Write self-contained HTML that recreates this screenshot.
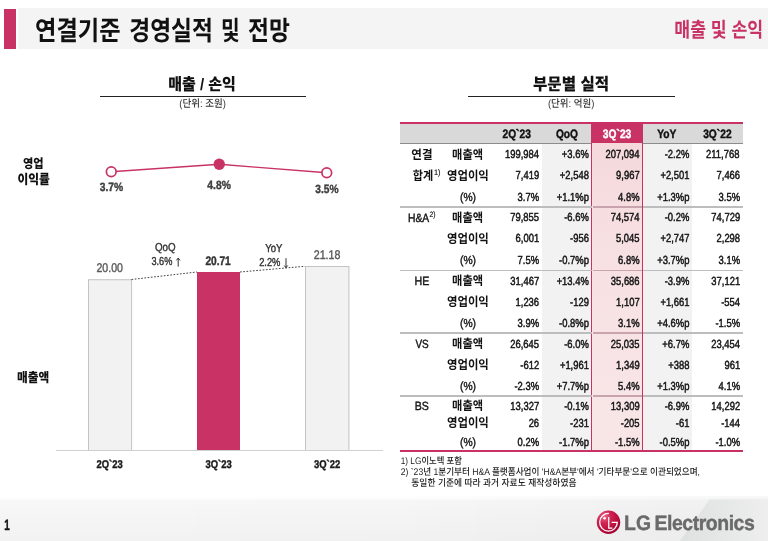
<!DOCTYPE html>
<html lang="ko"><head><meta charset="utf-8"><title>연결기준 경영실적 및 전망</title>
<style>
html,body{margin:0;padding:0;background:#fff}
body{width:768px;height:541px;overflow:hidden;position:relative;font-family:"Liberation Sans",sans-serif;text-rendering:geometricPrecision}
#slide{position:absolute;left:0;top:0;width:768px;height:541px;overflow:hidden;background:#fff;filter:blur(.4px)}
.bx{position:absolute;display:block}
.bar{background:#f2f2f2;box-sizing:border-box;border:1px solid #cfcfcf;border-bottom:none}
#lat{position:absolute;left:0;top:0;font-family:"Liberation Sans",sans-serif;text-rendering:geometricPrecision}
#lat text{white-space:pre}
#kr{position:absolute;left:0;top:0;font-family:"Liberation Sans","Noto Sans CJK KR",sans-serif;text-rendering:geometricPrecision}
#ktext span{position:absolute;display:block;overflow:hidden;white-space:nowrap;color:transparent}
</style></head><body>
<div id="slide">
<div id="shapes">
<svg class="bx" style="left:0;top:496px" width="768" height="45" viewBox="0 496 768 45">
<defs>
<linearGradient id="fv" x1="0" y1="0" x2="0" y2="1"><stop offset="0" stop-color="#fff"/><stop offset="0.04" stop-color="#fff"/><stop offset="0.1" stop-color="#f8f8f8"/><stop offset="0.3" stop-color="#f6f6f6"/><stop offset="1" stop-color="#f2f2f2"/></linearGradient>
<linearGradient id="fh" x1="0" y1="0" x2="1" y2="0"><stop offset="0" stop-color="#000" stop-opacity="0"/><stop offset="0.5" stop-color="#000" stop-opacity="0.004"/><stop offset="1" stop-color="#000" stop-opacity="0.03"/></linearGradient>
<linearGradient id="fd" x1="0" y1="0" x2="1" y2="0"><stop offset="0" stop-color="#dfe1e1"/><stop offset="0.5" stop-color="#e6e7e7"/><stop offset="1" stop-color="#eeeeee"/></linearGradient>
</defs>
<rect x="0" y="496" width="768" height="45" fill="url(#fv)"/>
<rect x="0" y="496" width="768" height="45" fill="url(#fh)"/>
<polygon points="709.5,499.5 768,499.5 768,541 680,541" fill="url(#fd)"/>
<polygon points="709.5,498.5 768,498.5 768,499.5 709,499.5" fill="#f0f0f0"/>
</svg>
<div class="bx" style="left:3.9px;top:8.5px;width:12px;height:40.4px;background:#c83264"></div>
<div class="bx" style="left:17.5px;top:8.3px;width:751px;height:41px;background:#f4f4f4"></div>
<div class="bx" style="left:100px;top:96px;width:205.5px;height:1px;background:#222"></div>
<div class="bx" style="left:468px;top:96px;width:206.5px;height:1px;background:#222"></div>
<svg class="bx" style="left:0;top:0" width="768" height="541" viewBox="0 0 768 541"><polyline points="111.25,171.75 219.25,164.25 326.75,172.75" fill="none" stroke="#c83264" stroke-width="1.3"/><circle cx="111.25" cy="171.75" r="4.85" fill="#fff" stroke="#c83264" stroke-width="1.7"/><circle cx="219.25" cy="164.25" r="5.7" fill="#c83264"/><circle cx="326.75" cy="172.75" r="4.85" fill="#fff" stroke="#c83264" stroke-width="1.7"/><rect x="88.45" y="279.75" width="43.2" height="172" fill="#f2f2f2" stroke="#bdbdbd" stroke-width="0.9"/><rect x="197" y="272" width="43" height="179" fill="#c83264"/><rect x="305.45" y="266.55" width="43.5" height="185" fill="#f2f2f2" stroke="#bdbdbd" stroke-width="0.9"/><rect x="50" y="450.9" width="340" height="3" fill="#fff"/><path d="M131.5 279.5L197 272M240 272L305 266.3" fill="none" stroke="#444" stroke-width="1" stroke-dasharray="1.7 1.55"/><rect x="56" y="450" width="327" height="1" fill="#d0d0d0"/><path d="M178.2 266.6V258.4M176.4 260.4L178.2 258L180 260.4" fill="none" stroke="#333" stroke-width="1"/><path d="M286 258.2V267.4M284.3 265.5L286 267.8L287.7 265.5" fill="none" stroke="#333" stroke-width="1"/></svg>
<div class="bx" style="left:400px;top:124px;width:342.5px;height:19px;background:#d9d9d9"></div>
<div class="bx" style="left:400px;top:122px;width:342.5px;height:2.3px;background:#c83264"></div>
<div class="bx" style="left:400px;top:142.8px;width:342.5px;height:1.6px;background:#8c8c8c"></div>
<div class="bx" style="left:541.5px;top:144.4px;width:50px;height:305.5px;background:#f2f2f2"></div>
<div class="bx" style="left:643px;top:144.4px;width:49px;height:305.5px;background:#f2f2f2"></div>
<div class="bx" style="left:591.3px;top:122px;width:51.9px;height:21.5px;background:#c83264"></div>
<div class="bx" style="left:591.3px;top:143.4px;width:51.9px;height:307.5px;background:linear-gradient(#f5d9dc,#f7e1e3 40%,#f8e6e7);box-sizing:border-box;border-left:1.9px solid #c83264;border-right:1.9px solid #c83264"></div>
<div class="bx" style="left:400px;top:206.3px;width:141.5px;height:1.4px;background:#bdbdbd"></div>
<div class="bx" style="left:593px;top:206.3px;width:48.5px;height:1.4px;background:#c9a3ad"></div>
<div class="bx" style="left:643px;top:206.3px;width:99.5px;height:1.4px;background:#bdbdbd"></div>
<div class="bx" style="left:541.5px;top:206.3px;width:50px;height:1.4px;background:#bdbdbd"></div>
<div class="bx" style="left:400px;top:269.5px;width:141.5px;height:1.4px;background:#bdbdbd"></div>
<div class="bx" style="left:593px;top:269.5px;width:48.5px;height:1.4px;background:#c9a3ad"></div>
<div class="bx" style="left:643px;top:269.5px;width:99.5px;height:1.4px;background:#bdbdbd"></div>
<div class="bx" style="left:541.5px;top:269.5px;width:50px;height:1.4px;background:#bdbdbd"></div>
<div class="bx" style="left:400px;top:332.3px;width:141.5px;height:1.4px;background:#bdbdbd"></div>
<div class="bx" style="left:593px;top:332.3px;width:48.5px;height:1.4px;background:#c9a3ad"></div>
<div class="bx" style="left:643px;top:332.3px;width:99.5px;height:1.4px;background:#bdbdbd"></div>
<div class="bx" style="left:541.5px;top:332.3px;width:50px;height:1.4px;background:#bdbdbd"></div>
<div class="bx" style="left:400px;top:395.3px;width:141.5px;height:1.4px;background:#bdbdbd"></div>
<div class="bx" style="left:593px;top:395.3px;width:48.5px;height:1.4px;background:#c9a3ad"></div>
<div class="bx" style="left:643px;top:395.3px;width:99.5px;height:1.4px;background:#bdbdbd"></div>
<div class="bx" style="left:541.5px;top:395.3px;width:50px;height:1.4px;background:#bdbdbd"></div>
<div class="bx" style="left:400px;top:449.5px;width:342.5px;height:2px;background:#c83264"></div>
<svg class="bx" style="left:596px;top:509px" width="26" height="27" viewBox="0 0 26 27">
<defs><radialGradient id="lg" cx="32%" cy="26%" r="80%"><stop offset="0" stop-color="#ec6a8a"/><stop offset="0.35" stop-color="#d02552"/><stop offset="0.75" stop-color="#b80d3c"/><stop offset="1" stop-color="#9c0030"/></radialGradient></defs>
<circle cx="12.5" cy="13.3" r="11.7" fill="url(#lg)"/>
<path d="M12.75 8v11.2h3.6" fill="none" stroke="#fff" stroke-width="1.25"/>
<path d="M13 4.5A8.8 8.8 0 1 0 21.3 13.3H15.7" fill="none" stroke="#fff" stroke-width="1.25"/>
<circle cx="8.6" cy="9.2" r="1.3" fill="#fff"/>
</svg>
</div>
<svg id="lat" width="768" height="541" viewBox="0 0 768 541">
<text transform="translate(99.763 191) scale(0.8595 1)" font-size="12" font-weight="700" fill="#404040" stroke="#404040" stroke-width="0.4">3.7%</text>
<text transform="translate(207.344 189) scale(0.8565 1)" font-size="12" font-weight="700" fill="#404040" stroke="#404040" stroke-width="0.4">4.8%</text>
<text transform="translate(315.266 193) scale(0.8502 1)" font-size="12" font-weight="700" fill="#404040" stroke="#404040" stroke-width="0.4">3.5%</text>
<text transform="translate(96.469 272) scale(0.8387 1)" font-size="12.6" fill="#595959" stroke="#595959" stroke-width="0.4">20.00</text>
<text transform="translate(205.398 265) scale(0.8180 1)" font-size="12.4" font-weight="700" fill="#333" stroke="#333" stroke-width="0.4">20.71</text>
<text transform="translate(313.712 259) scale(0.8484 1)" font-size="12.6" fill="#595959" stroke="#595959" stroke-width="0.4">21.18</text>
<text transform="translate(154.937 251) scale(0.8495 1)" font-size="11.5" fill="#333" stroke="#333" stroke-width="0.4">QoQ</text>
<text transform="translate(151.451 265) scale(0.7964 1)" font-size="11.5" fill="#333" stroke="#333" stroke-width="0.4">3.6%</text>
<text transform="translate(265.189 252) scale(0.8337 1)" font-size="11.5" fill="#333" stroke="#333" stroke-width="0.4">YoY</text>
<text transform="translate(259.13 266) scale(0.8127 1)" font-size="11.5" fill="#333" stroke="#333" stroke-width="0.4">2.2%</text>
<text transform="translate(96.472 468) scale(0.8439 1)" font-size="11.2" font-weight="700" fill="#1a1a1a" stroke="#1a1a1a" stroke-width="0.4">2Q`23</text>
<text transform="translate(205.483 468) scale(0.8436 1)" font-size="11.2" font-weight="700" fill="#1a1a1a" stroke="#1a1a1a" stroke-width="0.4">3Q`23</text>
<text transform="translate(313.983 468) scale(0.8448 1)" font-size="11.2" font-weight="700" fill="#1a1a1a" stroke="#1a1a1a" stroke-width="0.4">3Q`22</text>
<text transform="translate(502.466 138) scale(0.8400 1)" font-size="12.2" font-weight="700" fill="#111" stroke="#111" stroke-width="0.4">2Q`23</text>
<text transform="translate(555.904 138) scale(0.8400 1)" font-size="12.2" font-weight="700" fill="#111" stroke="#111" stroke-width="0.4">QoQ</text>
<text transform="translate(602.826 138) scale(0.8400 1)" font-size="12.2" font-weight="700" fill="#fff" stroke="#fff" stroke-width="0.4">3Q`23</text>
<text transform="translate(657.23 138) scale(0.8400 1)" font-size="12.2" font-weight="700" fill="#111" stroke="#111" stroke-width="0.4">YoY</text>
<text transform="translate(703.146 138) scale(0.8400 1)" font-size="12.2" font-weight="700" fill="#111" stroke="#111" stroke-width="0.4">3Q`22</text>
<text transform="translate(504.93 158) scale(0.8050 1)" font-size="11.7" fill="#141414" stroke="#141414" stroke-width="0.5">199,984</text>
<text transform="translate(561.868 158) scale(0.8050 1)" font-size="11.7" fill="#141414" stroke="#141414" stroke-width="0.5">+3.6%</text>
<text transform="translate(605.43 158) scale(0.8050 1)" font-size="11.7" fill="#141414" stroke="#141414" stroke-width="0.5">207,094</text>
<text transform="translate(664.732 158) scale(0.8050 1)" font-size="11.7" fill="#141414" stroke="#141414" stroke-width="0.5">-2.2%</text>
<text transform="translate(706.064 158) scale(0.8050 1)" font-size="11.7" fill="#141414" stroke="#141414" stroke-width="0.5">211,768</text>
<text transform="translate(515.577 179) scale(0.8050 1)" font-size="11.7" fill="#141414" stroke="#141414" stroke-width="0.5">7,419</text>
<text transform="translate(559.84 179) scale(0.8050 1)" font-size="11.7" fill="#141414" stroke="#141414" stroke-width="0.5">+2,548</text>
<text transform="translate(616.104 179) scale(0.8050 1)" font-size="11.7" fill="#141414" stroke="#141414" stroke-width="0.5">9,967</text>
<text transform="translate(660.39 179) scale(0.8050 1)" font-size="11.7" fill="#141414" stroke="#141414" stroke-width="0.5">+2,501</text>
<text transform="translate(716.545 179) scale(0.8050 1)" font-size="11.7" fill="#141414" stroke="#141414" stroke-width="0.5">7,466</text>
<text transform="translate(517.568 201) scale(0.8050 1)" font-size="11.7" fill="#141414" stroke="#141414" stroke-width="0.5">3.7%</text>
<text transform="translate(556.69 201) scale(0.8050 1)" font-size="11.7" fill="#141414" stroke="#141414" stroke-width="0.5">+1.1%p</text>
<text transform="translate(618.068 201) scale(0.8050 1)" font-size="11.7" fill="#141414" stroke="#141414" stroke-width="0.5">4.8%</text>
<text transform="translate(657.19 201) scale(0.8050 1)" font-size="11.7" fill="#141414" stroke="#141414" stroke-width="0.5">+1.3%p</text>
<text transform="translate(718.568 201) scale(0.8050 1)" font-size="11.7" fill="#141414" stroke="#141414" stroke-width="0.5">3.5%</text>
<text transform="translate(459.959 201) scale(0.8839 1)" font-size="11.7" fill="#141414" stroke="#141414" stroke-width="0.4">(%)</text>
<text transform="translate(510.288 221) scale(0.8050 1)" font-size="11.7" fill="#141414" stroke="#141414" stroke-width="0.5">79,855</text>
<text transform="translate(564.232 221) scale(0.8050 1)" font-size="11.7" fill="#141414" stroke="#141414" stroke-width="0.5">-6.6%</text>
<text transform="translate(610.669 221) scale(0.8050 1)" font-size="11.7" fill="#141414" stroke="#141414" stroke-width="0.5">74,574</text>
<text transform="translate(664.732 221) scale(0.8050 1)" font-size="11.7" fill="#141414" stroke="#141414" stroke-width="0.5">-0.2%</text>
<text transform="translate(711.339 221) scale(0.8050 1)" font-size="11.7" fill="#141414" stroke="#141414" stroke-width="0.5">74,729</text>
<text transform="translate(515.591 242) scale(0.8050 1)" font-size="11.7" fill="#141414" stroke="#141414" stroke-width="0.5">6,001</text>
<text transform="translate(570.063 242) scale(0.8050 1)" font-size="11.7" fill="#141414" stroke="#141414" stroke-width="0.5">-956</text>
<text transform="translate(616.026 242) scale(0.8050 1)" font-size="11.7" fill="#141414" stroke="#141414" stroke-width="0.5">5,045</text>
<text transform="translate(660.404 242) scale(0.8050 1)" font-size="11.7" fill="#141414" stroke="#141414" stroke-width="0.5">+2,747</text>
<text transform="translate(716.54 242) scale(0.8050 1)" font-size="11.7" fill="#141414" stroke="#141414" stroke-width="0.5">2,298</text>
<text transform="translate(517.568 264) scale(0.8050 1)" font-size="11.7" fill="#141414" stroke="#141414" stroke-width="0.5">7.5%</text>
<text transform="translate(559.053 264) scale(0.8050 1)" font-size="11.7" fill="#141414" stroke="#141414" stroke-width="0.5">-0.7%p</text>
<text transform="translate(618.068 264) scale(0.8050 1)" font-size="11.7" fill="#141414" stroke="#141414" stroke-width="0.5">6.8%</text>
<text transform="translate(657.19 264) scale(0.8050 1)" font-size="11.7" fill="#141414" stroke="#141414" stroke-width="0.5">+3.7%p</text>
<text transform="translate(718.568 264) scale(0.8050 1)" font-size="11.7" fill="#141414" stroke="#141414" stroke-width="0.5">3.1%</text>
<text transform="translate(459.959 264) scale(0.8839 1)" font-size="11.7" fill="#141414" stroke="#141414" stroke-width="0.4">(%)</text>
<text transform="translate(510.366 285) scale(0.8050 1)" font-size="11.7" fill="#141414" stroke="#141414" stroke-width="0.5">31,467</text>
<text transform="translate(556.63 285) scale(0.8050 1)" font-size="11.7" fill="#141414" stroke="#141414" stroke-width="0.5">+13.4%</text>
<text transform="translate(610.807 285) scale(0.8050 1)" font-size="11.7" fill="#141414" stroke="#141414" stroke-width="0.5">35,686</text>
<text transform="translate(664.732 285) scale(0.8050 1)" font-size="11.7" fill="#141414" stroke="#141414" stroke-width="0.5">-3.9%</text>
<text transform="translate(711.353 285) scale(0.8050 1)" font-size="11.7" fill="#141414" stroke="#141414" stroke-width="0.5">37,121</text>
<text transform="translate(515.545 306) scale(0.8050 1)" font-size="11.7" fill="#141414" stroke="#141414" stroke-width="0.5">1,236</text>
<text transform="translate(570.095 306) scale(0.8050 1)" font-size="11.7" fill="#141414" stroke="#141414" stroke-width="0.5">-129</text>
<text transform="translate(616.104 306) scale(0.8050 1)" font-size="11.7" fill="#141414" stroke="#141414" stroke-width="0.5">1,107</text>
<text transform="translate(660.39 306) scale(0.8050 1)" font-size="11.7" fill="#141414" stroke="#141414" stroke-width="0.5">+1,661</text>
<text transform="translate(721.125 306) scale(0.8050 1)" font-size="11.7" fill="#141414" stroke="#141414" stroke-width="0.5">-554</text>
<text transform="translate(517.568 327) scale(0.8050 1)" font-size="11.7" fill="#141414" stroke="#141414" stroke-width="0.5">3.9%</text>
<text transform="translate(559.053 327) scale(0.8050 1)" font-size="11.7" fill="#141414" stroke="#141414" stroke-width="0.5">-0.8%p</text>
<text transform="translate(618.068 327) scale(0.8050 1)" font-size="11.7" fill="#141414" stroke="#141414" stroke-width="0.5">3.1%</text>
<text transform="translate(657.19 327) scale(0.8050 1)" font-size="11.7" fill="#141414" stroke="#141414" stroke-width="0.5">+4.6%p</text>
<text transform="translate(715.432 327) scale(0.8050 1)" font-size="11.7" fill="#141414" stroke="#141414" stroke-width="0.5">-1.5%</text>
<text transform="translate(459.959 327) scale(0.8839 1)" font-size="11.7" fill="#141414" stroke="#141414" stroke-width="0.4">(%)</text>
<text transform="translate(510.288 348) scale(0.8050 1)" font-size="11.7" fill="#141414" stroke="#141414" stroke-width="0.5">26,645</text>
<text transform="translate(564.232 348) scale(0.8050 1)" font-size="11.7" fill="#141414" stroke="#141414" stroke-width="0.5">-6.0%</text>
<text transform="translate(610.788 348) scale(0.8050 1)" font-size="11.7" fill="#141414" stroke="#141414" stroke-width="0.5">25,035</text>
<text transform="translate(662.368 348) scale(0.8050 1)" font-size="11.7" fill="#141414" stroke="#141414" stroke-width="0.5">+6.7%</text>
<text transform="translate(711.169 348) scale(0.8050 1)" font-size="11.7" fill="#141414" stroke="#141414" stroke-width="0.5">23,454</text>
<text transform="translate(520.323 369) scale(0.8050 1)" font-size="11.7" fill="#141414" stroke="#141414" stroke-width="0.5">-612</text>
<text transform="translate(559.89 369) scale(0.8050 1)" font-size="11.7" fill="#141414" stroke="#141414" stroke-width="0.5">+1,961</text>
<text transform="translate(616.077 369) scale(0.8050 1)" font-size="11.7" fill="#141414" stroke="#141414" stroke-width="0.5">1,349</text>
<text transform="translate(668.195 369) scale(0.8050 1)" font-size="11.7" fill="#141414" stroke="#141414" stroke-width="0.5">+388</text>
<text transform="translate(724.446 369) scale(0.8050 1)" font-size="11.7" fill="#141414" stroke="#141414" stroke-width="0.5">961</text>
<text transform="translate(514.432 390) scale(0.8050 1)" font-size="11.7" fill="#141414" stroke="#141414" stroke-width="0.5">-2.3%</text>
<text transform="translate(556.69 390) scale(0.8050 1)" font-size="11.7" fill="#141414" stroke="#141414" stroke-width="0.5">+7.7%p</text>
<text transform="translate(618.068 390) scale(0.8050 1)" font-size="11.7" fill="#141414" stroke="#141414" stroke-width="0.5">5.4%</text>
<text transform="translate(657.19 390) scale(0.8050 1)" font-size="11.7" fill="#141414" stroke="#141414" stroke-width="0.5">+1.3%p</text>
<text transform="translate(718.568 390) scale(0.8050 1)" font-size="11.7" fill="#141414" stroke="#141414" stroke-width="0.5">4.1%</text>
<text transform="translate(459.959 390) scale(0.8839 1)" font-size="11.7" fill="#141414" stroke="#141414" stroke-width="0.4">(%)</text>
<text transform="translate(510.366 410) scale(0.8050 1)" font-size="11.7" fill="#141414" stroke="#141414" stroke-width="0.5">13,327</text>
<text transform="translate(564.232 410) scale(0.8050 1)" font-size="11.7" fill="#141414" stroke="#141414" stroke-width="0.5">-0.1%</text>
<text transform="translate(610.839 410) scale(0.8050 1)" font-size="11.7" fill="#141414" stroke="#141414" stroke-width="0.5">13,309</text>
<text transform="translate(664.732 410) scale(0.8050 1)" font-size="11.7" fill="#141414" stroke="#141414" stroke-width="0.5">-6.9%</text>
<text transform="translate(711.366 410) scale(0.8050 1)" font-size="11.7" fill="#141414" stroke="#141414" stroke-width="0.5">14,292</text>
<text transform="translate(528.638 427) scale(0.8050 1)" font-size="11.7" fill="#141414" stroke="#141414" stroke-width="0.5">26</text>
<text transform="translate(570.109 427) scale(0.8050 1)" font-size="11.7" fill="#141414" stroke="#141414" stroke-width="0.5">-231</text>
<text transform="translate(620.745 427) scale(0.8050 1)" font-size="11.7" fill="#141414" stroke="#141414" stroke-width="0.5">-205</text>
<text transform="translate(675.847 427) scale(0.8050 1)" font-size="11.7" fill="#141414" stroke="#141414" stroke-width="0.5">-61</text>
<text transform="translate(721.125 427) scale(0.8050 1)" font-size="11.7" fill="#141414" stroke="#141414" stroke-width="0.5">-144</text>
<text transform="translate(517.568 446) scale(0.8050 1)" font-size="11.7" fill="#141414" stroke="#141414" stroke-width="0.5">0.2%</text>
<text transform="translate(559.053 446) scale(0.8050 1)" font-size="11.7" fill="#141414" stroke="#141414" stroke-width="0.5">-1.7%p</text>
<text transform="translate(614.932 446) scale(0.8050 1)" font-size="11.7" fill="#141414" stroke="#141414" stroke-width="0.5">-1.5%</text>
<text transform="translate(659.553 446) scale(0.8050 1)" font-size="11.7" fill="#141414" stroke="#141414" stroke-width="0.5">-0.5%p</text>
<text transform="translate(715.432 446) scale(0.8050 1)" font-size="11.7" fill="#141414" stroke="#141414" stroke-width="0.5">-1.0%</text>
<text transform="translate(459.959 446) scale(0.8839 1)" font-size="11.7" fill="#141414" stroke="#141414" stroke-width="0.4">(%)</text>
<text transform="translate(433.932 175) scale(0.9560 1)" font-size="7.8" fill="#141414" stroke="#141414" stroke-width="0.15">1)</text>
<text transform="translate(407.951 222) scale(0.8692 1)" font-size="11.9" fill="#141414" stroke="#141414" stroke-width="0.4">H&amp;A</text>
<text transform="translate(429.457 217) scale(0.8747 1)" font-size="7.8" fill="#141414" stroke="#141414" stroke-width="0.15">2)</text>
<text transform="translate(414.524 285) scale(0.8974 1)" font-size="11.9" fill="#141414" stroke="#141414" stroke-width="0.4">HE</text>
<text transform="translate(415.456 348) scale(0.8379 1)" font-size="11.9" fill="#141414" stroke="#141414" stroke-width="0.4">VS</text>
<text transform="translate(414.729 410) scale(0.8919 1)" font-size="11.9" fill="#141414" stroke="#141414" stroke-width="0.4">BS</text>
<text transform="translate(4.177 530) scale(0.6590 1)" font-size="15" font-weight="700" fill="#111" stroke="#111" stroke-width="0.4">1</text>
<text transform="translate(624.104 530) scale(0.9312 1)" font-size="20.8" font-weight="700" fill="#6a6a6a" stroke="#6a6a6a" stroke-width="0.4">LG</text>
<text transform="translate(654.497 530) scale(0.9362 1)" font-size="20.8" font-weight="700" letter-spacing="-0.5" fill="#6a6a6a" stroke="#6a6a6a" stroke-width="0.4">Electronics</text>
</svg>
<svg id="kr" width="768" height="541" viewBox="0 0 768 541">
<text x="35.1" y="40.203" font-size="26.71" font-weight="700" fill="#111" textLength="85.5" lengthAdjust="spacingAndGlyphs">연결기준</text>
<text x="129.3" y="40.203" font-size="26.71" font-weight="700" fill="#111" textLength="83.6" lengthAdjust="spacingAndGlyphs">경영실적</text>
<text x="221" y="40.203" font-size="26.71" font-weight="700" fill="#111" textLength="18.7" lengthAdjust="spacingAndGlyphs">및</text>
<text x="248" y="40.203" font-size="26.71" font-weight="700" fill="#111" textLength="41.8" lengthAdjust="spacingAndGlyphs">전망</text>
<text x="674.3" y="37.376" font-size="20.5" font-weight="700" fill="#c83264" textLength="88.9" lengthAdjust="spacingAndGlyphs">매출 및 손익</text>
<text x="168.2" y="89.872" font-size="16.6" font-weight="900" fill="#111" textLength="67.7" lengthAdjust="spacingAndGlyphs">매출 / 손익</text>
<text x="179.3" y="106.948" font-size="10.4" font-weight="500" fill="#333" textLength="46.6" lengthAdjust="spacingAndGlyphs">(단위: 조원)</text>
<text x="533" y="89.85" font-size="16.8" font-weight="900" fill="#111" textLength="76.1" lengthAdjust="spacingAndGlyphs">부문별 실적</text>
<text x="547.9" y="106.948" font-size="10.4" font-weight="500" fill="#333" textLength="46.5" lengthAdjust="spacingAndGlyphs">(단위: 억원)</text>
<text x="22.9" y="167.683" font-size="12.7" font-weight="900" fill="#111" textLength="20.6" lengthAdjust="spacingAndGlyphs">영업</text>
<text x="17.4" y="183.503" font-size="13.4" font-weight="900" fill="#111" textLength="32.4" lengthAdjust="spacingAndGlyphs">이익률</text>
<text x="17" y="382.056" font-size="13.1" font-weight="900" fill="#111" textLength="32.2" lengthAdjust="spacingAndGlyphs">매출액</text>
<text x="452.117" y="158.594" font-size="12.5" font-weight="700" fill="#111" textLength="30.966" lengthAdjust="spacingAndGlyphs">매출액</text>
<text x="446.95" y="179.575" font-size="12.5" font-weight="700" fill="#111" textLength="41.901" lengthAdjust="spacingAndGlyphs">영업이익</text>
<text x="452.117" y="221.594" font-size="12.5" font-weight="700" fill="#111" textLength="30.966" lengthAdjust="spacingAndGlyphs">매출액</text>
<text x="446.95" y="242.575" font-size="12.5" font-weight="700" fill="#111" textLength="41.901" lengthAdjust="spacingAndGlyphs">영업이익</text>
<text x="452.117" y="285.194" font-size="12.5" font-weight="700" fill="#111" textLength="30.966" lengthAdjust="spacingAndGlyphs">매출액</text>
<text x="446.95" y="305.975" font-size="12.5" font-weight="700" fill="#111" textLength="41.901" lengthAdjust="spacingAndGlyphs">영업이익</text>
<text x="452.117" y="348.494" font-size="12.5" font-weight="700" fill="#111" textLength="30.966" lengthAdjust="spacingAndGlyphs">매출액</text>
<text x="446.95" y="368.975" font-size="12.5" font-weight="700" fill="#111" textLength="41.901" lengthAdjust="spacingAndGlyphs">영업이익</text>
<text x="452.117" y="409.694" font-size="12.5" font-weight="700" fill="#111" textLength="30.966" lengthAdjust="spacingAndGlyphs">매출액</text>
<text x="446.95" y="427.175" font-size="12.5" font-weight="700" fill="#111" textLength="41.901" lengthAdjust="spacingAndGlyphs">영업이익</text>
<text x="411.3" y="158.638" font-size="12.5" font-weight="700" fill="#111" textLength="21.2" lengthAdjust="spacingAndGlyphs">연결</text>
<text x="412.796" y="179.631" font-size="12.5" font-weight="700" fill="#111" textLength="20.508" lengthAdjust="spacingAndGlyphs">합계</text>
<text x="400.7" y="463.9" font-size="9.5" font-weight="500" fill="#222" textLength="61.1" lengthAdjust="spacingAndGlyphs">1) LG이노텍 포함</text>
<text x="400.7" y="475" font-size="9.5" font-weight="500" fill="#222" textLength="299.3" lengthAdjust="spacingAndGlyphs">2) `23년 1분기부터 H&amp;A 플랫폼사업이 'H&amp;A본부'에서 '기타부문'으로 이관되었으며,</text>
<text x="411.3" y="486.3" font-size="9.5" font-weight="500" fill="#222" textLength="165.2" lengthAdjust="spacingAndGlyphs">동일한 기준에 따라 과거 자료도 재작성하였음</text>
</svg>
<div id="ktext">
<span style="left:35.1px;top:17.9px;width:85.5px;height:24.573px;font-size:23.345px;line-height:24.573px">연결기준</span>
<span style="left:129.3px;top:17.927px;width:83.6px;height:24.573px;font-size:23.345px;line-height:24.573px">경영실적</span>
<span style="left:221px;top:17.927px;width:18.7px;height:24.493px;font-size:23.269px;line-height:24.493px">및</span>
<span style="left:248px;top:17.927px;width:41.8px;height:24.573px;font-size:23.345px;line-height:24.573px">전망</span>
<span style="left:674.3px;top:20.2px;width:88.9px;height:19px;font-size:18.05px;line-height:19px">매출 및 손익</span>
<span style="left:168.2px;top:75.9px;width:67.7px;height:15.5px;font-size:14.725px;line-height:15.5px">매출 / 손익</span>
<span style="left:179.3px;top:98.3px;width:46.6px;height:10.8px;font-size:10.26px;line-height:10.8px">(단위: 조원)</span>
<span style="left:533px;top:75.7px;width:76.1px;height:15.7px;font-size:14.915px;line-height:15.7px">부문별 실적</span>
<span style="left:547.9px;top:98.3px;width:46.5px;height:10.8px;font-size:10.26px;line-height:10.8px">(단위: 억원)</span>
<span style="left:22.9px;top:157px;width:20.6px;height:11.9px;font-size:11.305px;line-height:11.9px">영업</span>
<span style="left:17.4px;top:172.2px;width:32.4px;height:12.6px;font-size:11.97px;line-height:12.6px">이익률</span>
<span style="left:17px;top:371px;width:32.2px;height:12.3px;font-size:11.685px;line-height:12.3px">매출액</span>
<span style="left:452.117px;top:148.131px;width:30.966px;height:11.537px;font-size:10.961px;line-height:11.537px">매출액</span>
<span style="left:446.95px;top:169.138px;width:41.901px;height:11.525px;font-size:10.949px;line-height:11.525px">영업이익</span>
<span style="left:452.117px;top:211.131px;width:30.966px;height:11.537px;font-size:10.961px;line-height:11.537px">매출액</span>
<span style="left:446.95px;top:232.138px;width:41.901px;height:11.525px;font-size:10.949px;line-height:11.525px">영업이익</span>
<span style="left:452.117px;top:274.731px;width:30.966px;height:11.538px;font-size:10.961px;line-height:11.538px">매출액</span>
<span style="left:446.95px;top:295.538px;width:41.901px;height:11.525px;font-size:10.949px;line-height:11.525px">영업이익</span>
<span style="left:452.117px;top:338.031px;width:30.966px;height:11.538px;font-size:10.961px;line-height:11.538px">매출액</span>
<span style="left:446.95px;top:358.538px;width:41.901px;height:11.525px;font-size:10.949px;line-height:11.525px">영업이익</span>
<span style="left:452.117px;top:399.231px;width:30.966px;height:11.538px;font-size:10.961px;line-height:11.538px">매출액</span>
<span style="left:446.95px;top:416.738px;width:41.901px;height:11.525px;font-size:10.949px;line-height:11.525px">영업이익</span>
<span style="left:411.3px;top:148.2px;width:21.2px;height:11.4px;font-size:10.83px;line-height:11.4px">연결</span>
<span style="left:412.796px;top:169.106px;width:20.508px;height:11.588px;font-size:11.008px;line-height:11.588px">합계</span>
<span style="left:400.7px;top:455.939px;width:61.1px;height:9.928px;font-size:9.431px;line-height:9.928px">1) LG이노텍 포함</span>
<span style="left:400.7px;top:467.096px;width:299.3px;height:9.871px;font-size:9.377px;line-height:9.871px">2) `23년 1분기부터 H&amp;A 플랫폼사업이 &#x27;H&amp;A본부&#x27;에서 &#x27;기타부문&#x27;으로 이관되었으며,</span>
<span style="left:411.3px;top:478.387px;width:165.2px;height:8.712px;font-size:8.276px;line-height:8.712px">동일한 기준에 따라 과거 자료도 재작성하였음</span>
</div>
</div>
</body></html>
